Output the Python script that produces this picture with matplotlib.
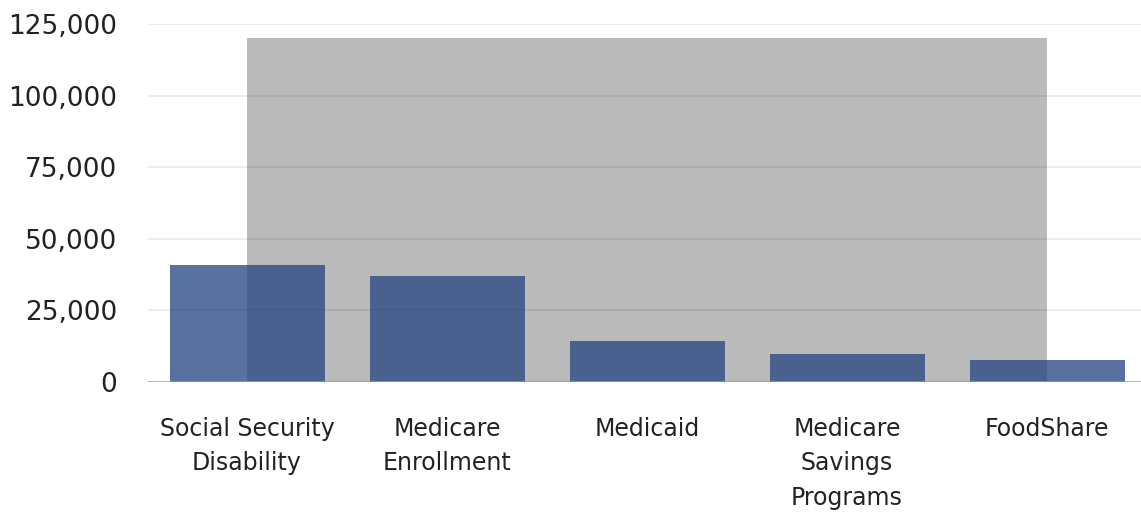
import matplotlib.pyplot as plt
from matplotlib.ticker import FuncFormatter

# program enrollment counts
programs = ["Social Security\nDisability", "Medicare\nEnrollment", "Medicaid",
            "Medicare\nSavings\nPrograms", "FoodShare"]
counts = [41000, 37000, 14300, 9700, 7600]
overlay_top = 120000
y_ticks = [0, 25000, 50000, 75000, 100000, 125000]

plt.rcParams['font.family'] = ['DejaVu Sans']

fig = plt.figure(figsize=(11.41, 5.14), dpi=100)
ax = fig.add_axes([148 / 1141, 132 / 514, 993 / 1141, 358 / 514])

x = list(range(len(programs)))

# light grid behind everything
for v in y_ticks[1:]:
    ax.axhline(v, color='#ebebeb', linewidth=1.3, zorder=0)

# translucent grey block spanning first to last category centre
ax.fill_between([x[0], x[-1]], 0, overlay_top, color='black', alpha=0.27,
                linewidth=0, zorder=1)

ax.bar(x, counts, width=0.775, color='#274683', alpha=0.77, zorder=2)

ax.axhline(0, color='#9a9a9a', linewidth=1.8, zorder=4)

ax.set_xlim(-0.495, 4.47)
ax.set_ylim(0, 125000)
ax.set_yticks(y_ticks)
ax.yaxis.set_major_formatter(FuncFormatter(lambda v, p: f"{int(v):,}"))
ax.set_xticks(x)
ax.set_xticklabels(programs, linespacing=1.55)

for s in ax.spines.values():
    s.set_visible(False)
ax.tick_params(axis='y', length=0, pad=22, labelsize=19, labelcolor='#222222')
ax.tick_params(axis='x', length=0, pad=25, labelsize=17, labelcolor='#222222')

plt.savefig('out.png', dpi=100)
